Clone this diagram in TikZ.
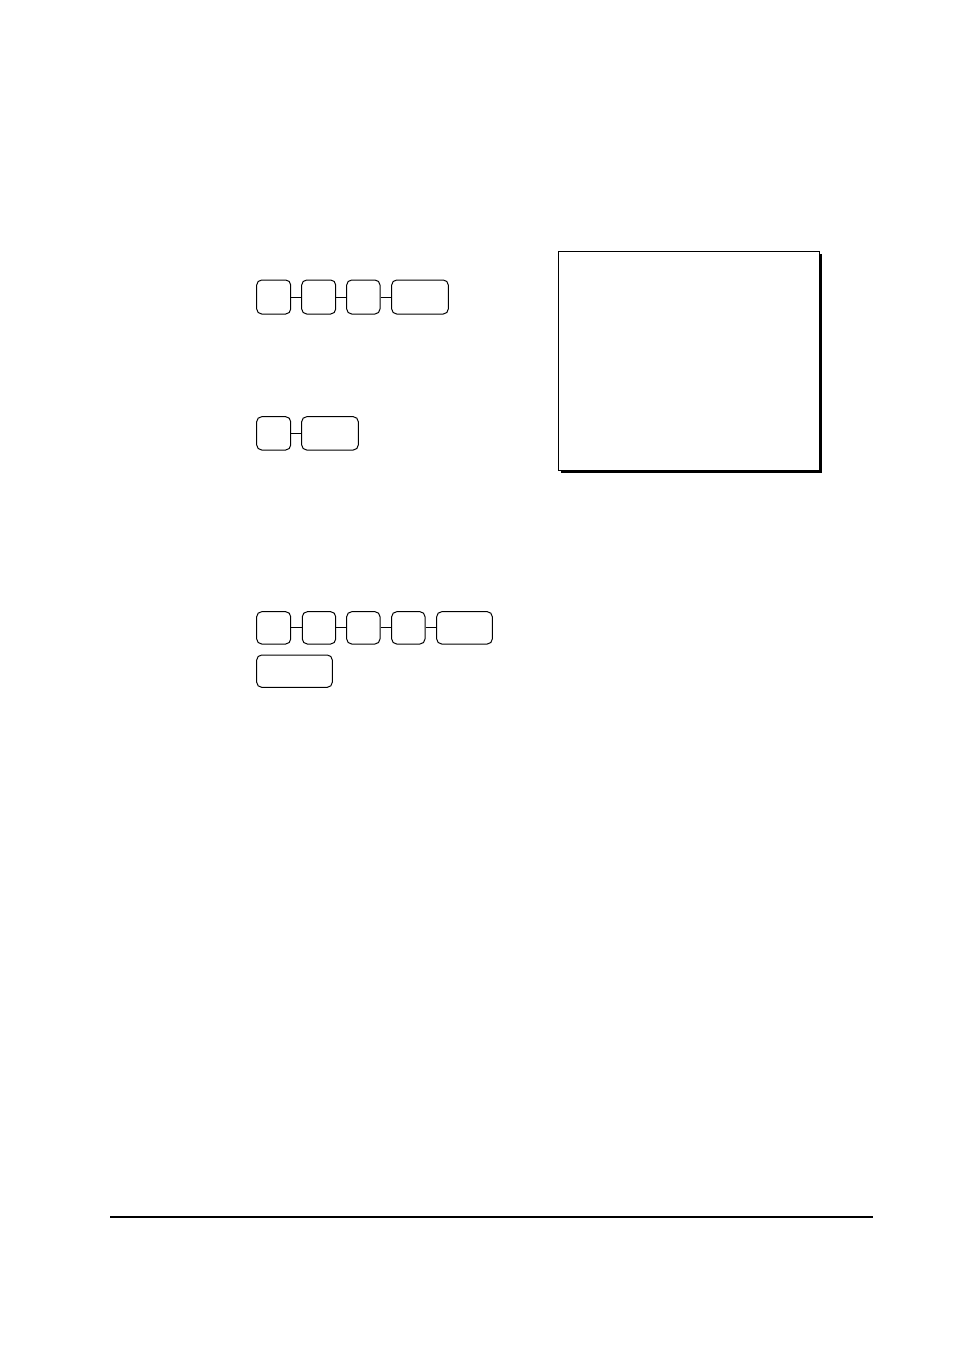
\documentclass[tikz,border=0pt]{standalone}
\begin{document}
\begin{tikzpicture}[x=1pt,y=-1pt,
  keybox/.style={draw=black,line width=1pt,rounded corners=5pt,inner sep=0pt,minimum height=34pt},
  smallkey/.style={keybox,minimum width=34pt},
  widekey/.style={keybox,minimum width=56.6pt},
  link/.style={draw=black,line width=1pt},
  receipt/.style={draw=black,fill=white,line width=1pt,inner sep=0pt,minimum width=261pt,minimum height=219.7pt}]
\useasboundingbox (0,0) rectangle (954,1350);
\fill[white] (0,0) rectangle (954,1350);
% row 1
\node[smallkey] (k11) at (273.7,297) {};
\node[smallkey] (k12) at (318.7,297) {};
\node[smallkey,minimum width=33.3pt] (k13) at (363.35,297) {};
\node[widekey] (k14) at (420,297) {};
\draw[link] (k11.east) -- (k12.west);
\draw[link] (k12.east) -- (k13.west);
\draw[link] (k13.east) -- (k14.west);
% row 2
\node[smallkey,minimum height=33.3pt] (k21) at (273.7,433.35) {};
\node[widekey,minimum height=33.3pt] (k22) at (330,433.35) {};
\draw[link] (k21.east) -- (k22.west);
% row 3
\node[smallkey,minimum height=32.3pt] (k31) at (273.7,627.85) {};
\node[smallkey,minimum width=33.4pt,minimum height=32.3pt] (k32) at (319,627.85) {};
\node[smallkey,minimum width=33.3pt,minimum height=32.3pt] (k33) at (363.35,627.85) {};
\node[smallkey,minimum width=33.3pt,minimum height=32.3pt] (k34) at (408.35,627.85) {};
\node[widekey,minimum width=55.6pt,minimum height=32.3pt] (k35) at (464.5,627.85) {};
\draw[link] (k31.east) -- (k32.west);
\draw[link] (k32.east) -- (k33.west);
\draw[link] (k33.east) -- (k34.west);
\draw[link] (k34.east) -- (k35.west);
% row 4
\node[keybox,minimum width=75.6pt,minimum height=32.3pt] (k41) at (294.5,671.15) {};
% receipt box with shadow
\fill[black] (561.3,254) rectangle (821.8,473.2);
\node[receipt] (rcpt) at (688.8,360.85) {};
% bottom rule
\coordinate (ruleL) at (110,1217);
\coordinate (ruleR) at (872.7,1217);
\draw[black,line width=1.2pt] (ruleL) -- (ruleR);
\end{tikzpicture}
\end{document}
